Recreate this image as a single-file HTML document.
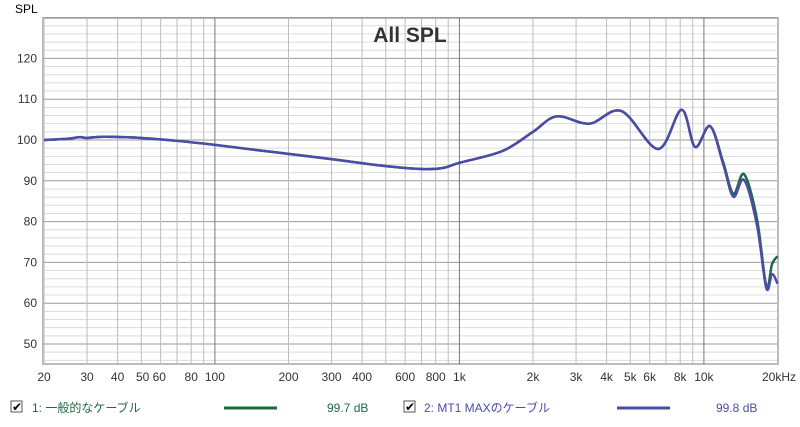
<!DOCTYPE html>
<html><head><meta charset="utf-8">
<style>
body{margin:0;background:#fff;width:800px;height:422px;overflow:hidden;font-family:"Liberation Sans","Noto Sans CJK JP",sans-serif}
svg text{font-family:"Liberation Sans","Noto Sans CJK JP",sans-serif}
</style></head><body>
<svg id="c" width="800" height="422" xmlns="http://www.w3.org/2000/svg">
<rect x="43" y="18" width="735" height="346" fill="#fff" stroke="#bbb" stroke-width="2"/>
<g id="grid"></g>
<g id="axes"></g>
<text x="410" y="42" font-size="21" font-weight="bold" text-anchor="middle" fill="#333">All SPL</text>
<text x="15" y="13" font-size="12" fill="#000">SPL</text>
<g id="series"></g>
<g>
<g>
<rect x="11" y="401" width="11" height="11" fill="#fff" stroke="#555"/>
<text x="12" y="411" font-size="12" fill="#000">✔</text>
<text x="32" y="412" font-size="12" fill="#1d6a43">1: 一般的なケーブル</text>
<line x1="224" y1="408" x2="277" y2="408" stroke="#1d6a43" stroke-width="3"/>
<text x="327" y="412" font-size="12" fill="#1d6a43">99.7 dB</text>
</g>
<g>
<rect x="404" y="401" width="11" height="11" fill="#fff" stroke="#555"/>
<text x="405" y="411" font-size="12" fill="#000">✔</text>
<text x="424" y="412" font-size="12" fill="#4c4ca8">2: MT1 MAXのケーブル</text>
<line x1="617" y1="408" x2="670" y2="408" stroke="#4c4ca8" stroke-width="3"/>
<text x="716" y="412" font-size="12" fill="#4c4ca8">99.8 dB</text>
</g>
</g>
</svg>
<script>
const freqs=[20,25,28,30,35,50,70,100,150,200,300,500,700,850,1000,1500,2000,2500,3400,4600,6500,8100,9200,10600,12000,13200,14600,16500,18000,19000,20000];
const s1=[100,100.3,100.7,100.5,100.8,100.5,99.8,98.8,97.5,96.6,95.3,93.6,92.9,93.1,94.4,97.3,102,105.8,104,107.1,97.8,107.4,98.3,103.4,94.5,86.8,91.6,80.5,64.2,69.6,71.5];
const s2=[100,100.3,100.7,100.5,100.8,100.5,99.8,98.8,97.5,96.6,95.3,93.6,92.9,93.1,94.4,97.3,102,105.8,104,107.1,97.8,107.4,98.3,103.4,94,86.1,90.2,79,63.7,67.1,64.8];
const yTicks=[50,60,70,80,90,100,110,120];
const xTickVals=[20,30,40,50,60,80,100,200,300,400,600,800,1000,2000,3000,4000,5000,6000,8000,10000,20000];
const xTickLabels=["20","30","40","50 60","","80","100","200","300","400","600","800","1k","2k","3k","4k","5k","6k","8k","10k","20kHz"];
const NS="http://www.w3.org/2000/svg";
const X=f=>44+(Math.log10(f)-Math.log10(20))*244.5;
const Y=v=>140-(v-100)*4.08;
function mk(t,a,p){const e=document.createElementNS(NS,t);for(const k in a)e.setAttribute(k,a[k]);p.appendChild(e);return e;}
const grid=document.getElementById('grid'),axes=document.getElementById('axes'),ser=document.getElementById('series');
for(let v=46;v<=130;v+=2){const major=v%10===0;
const l=mk('line',{x1:43,x2:778,y1:Y(v),y2:Y(v),stroke:major?'#9a9a9a':'#dcdcdc','stroke-width':1},grid);

}
for(let d=10;d<=10000;d*=10){for(let m=1;m<10;m++){const f=d*m;if(f<20||f>20000)continue;
const major=(m===1);
const l=mk('line',{x1:X(f),x2:X(f),y1:18,y2:364,stroke:major?'#777':'#bdbdbd','stroke-width':1},grid);

}}
yTicks.forEach(v=>{const t=mk('text',{x:37,y:Y(v)+4,'font-size':12,'text-anchor':'end',fill:'#333'},axes);t.textContent=v;

});
xTickVals.forEach((f,i)=>{if(!xTickLabels[i])return;let x=X(f);if(xTickLabels[i]==="50 60")x=(X(50)+X(60))/2;
const t=mk('text',{x:x,y:381,'font-size':12,'text-anchor':'middle',fill:'#333'},axes);t.textContent=xTickLabels[i];
if(i===xTickVals.length-1){t.setAttribute('text-anchor','end');t.setAttribute('x',796);}

});
function path(vals){const p=freqs.map((f,i)=>[X(f),Y(vals[i])]);let d='M'+p[0][0]+','+p[0][1];
for(let i=0;i<p.length-1;i++){const p0=p[i-1]||p[i],p1=p[i],p2=p[i+1],p3=p[i+2]||p2;
d+=` C${p1[0]+(p2[0]-p0[0])/6},${p1[1]+(p2[1]-p0[1])/6} ${p2[0]-(p3[0]-p1[0])/6},${p2[1]-(p3[1]-p1[1])/6} ${p2[0]},${p2[1]}`;}return d;}
const a=mk('path',{d:path(s1),fill:'none',stroke:'#1d6a43','stroke-width':2.5},ser);


const b=mk('path',{d:path(s2),fill:'none',stroke:'#4c4ca8','stroke-width':2.5},ser);


</script>
</body></html>
